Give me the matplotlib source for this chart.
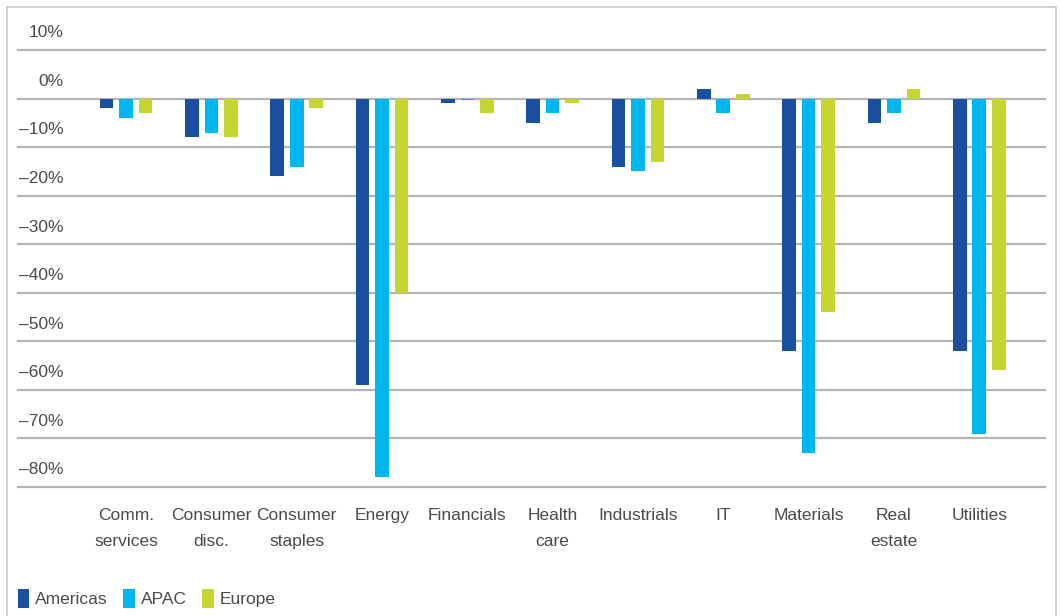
import numpy as np
import matplotlib.pyplot as plt
from matplotlib.patches import Rectangle

# Sector returns by region (%)
sectors = ["Comm.\nservices", "Consumer\ndisc.", "Consumer\nstaples", "Energy",
           "Financials", "Health\ncare", "Industrials", "IT", "Materials",
           "Real\nestate", "Utilities"]
americas = [-2, -8, -16, -59, -1, -5, -14, 2, -52, -5, -52]
apac = [-4, -7, -14, -78, -0.3, -3, -15, -3, -73, -3, -69]
europe = [-3, -8, -2, -40, -3, -1, -13, 1, -44, 2, -56]
yticks = [10, 0, -10, -20, -30, -40, -50, -60, -70, -80]

colors = {"Americas": "#1b4fa0", "APAC": "#00b6ef", "Europe": "#c6d530"}
text_col = "#4a4a4a"

plt.rcParams['font.family'] = ['Liberation Sans', 'DejaVu Sans']
fs = 12.5

W, H = 1060, 616
fig = plt.figure(figsize=(W / 100, H / 100), dpi=100)
ax = fig.add_axes([18 / W, (H - 487) / H, (1045 - 18) / W, (487 - 50) / H])

x = np.arange(len(sectors))
off = 0.229
bw = 0.16
ax.bar(x - off, americas, bw, color=colors["Americas"], label="Americas", zorder=3)
ax.bar(x, apac, bw, color=colors["APAC"], label="APAC", zorder=3)
ax.bar(x + off, europe, bw, color=colors["Europe"], label="Europe", zorder=3)

ax.set_ylim(-80, 10)
ax.set_xlim(-1.266, 10.77)
for v in yticks:
    ax.axhline(v, color="#b4b4b4", lw=1.6, zorder=1, clip_on=False)
    lab = f"{v}%".replace("-", "\u2013")
    ax.annotate(lab, xy=(0.044, v), xycoords=ax.get_yaxis_transform(),
                xytext=(0, 7), textcoords="offset points",
                ha="right", va="bottom", fontsize=fs, color=text_col)

ax.set_xticks([])
ax.set_yticks([])
for s in ax.spines.values():
    s.set_visible(False)

# sector names under the plot
for i, name in enumerate(sectors):
    ax.annotate(name, xy=(i, -80), xycoords="data", xytext=(0, -15),
                textcoords="offset points", ha="center", va="top",
                fontsize=fs, color=text_col, linespacing=1.9)

fig.legend(loc="lower left", bbox_to_anchor=(2 / W, -0.012), ncol=3, frameon=False,
           fontsize=fs, handlelength=0.65, handleheight=1.3, handletextpad=0.35,
           columnspacing=0.9, labelcolor=text_col)

# thin frame round the figure
fig.patches.append(Rectangle((7 / W, -0.1), (1056 - 7) / W, (H - 7) / H + 0.1,
                             transform=fig.transFigure, fill=False,
                             edgecolor="#c8c8c8", lw=1.2))

fig.savefig("out.png", dpi=100)
